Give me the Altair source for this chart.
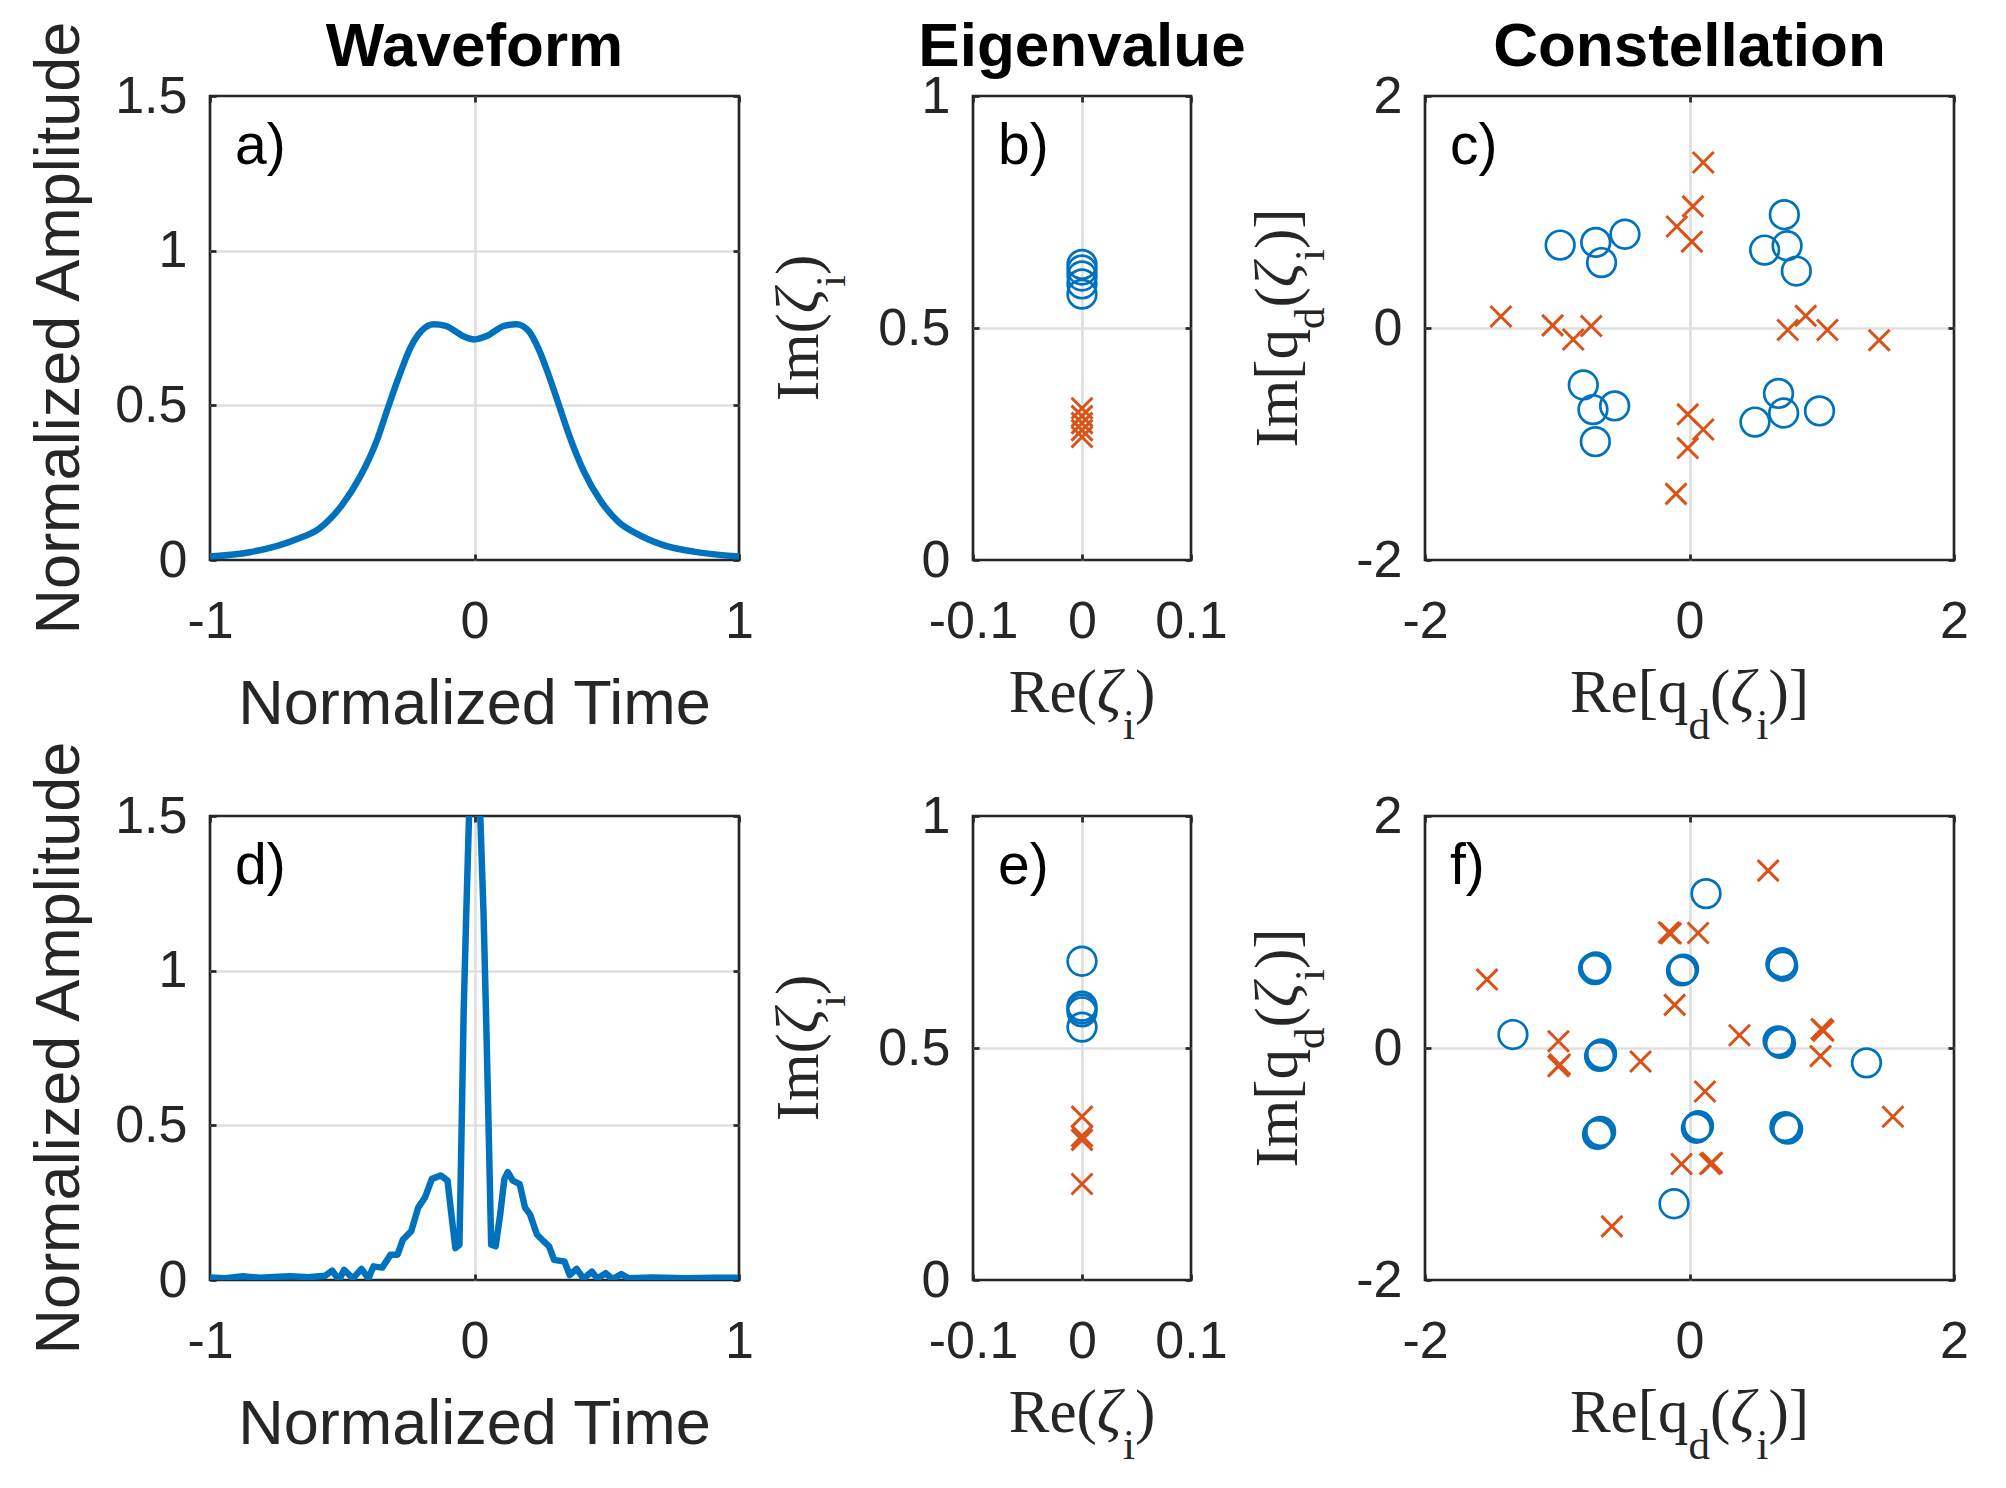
import altair as alt
import pandas as pd

# ---------------- data ----------------
t_a = [-1.0, -0.85, -0.668, -0.59, -0.499, -0.434, -0.369, -0.33, -0.29, -0.239, -0.2, -0.154,
       -0.109, -0.044, 0.0, 0.047, 0.112, 0.158, 0.204, 0.243, 0.282, 0.321, 0.36, 0.412, 0.477,
       0.542, 0.62, 0.711, 0.828, 1.0]
amp_a = [0.011, 0.025, 0.069, 0.10, 0.18, 0.267, 0.387, 0.485, 0.583, 0.692, 0.741, 0.762,
         0.757, 0.724, 0.713, 0.724, 0.757, 0.762, 0.741, 0.681, 0.594, 0.496, 0.398, 0.289, 0.191,
         0.125, 0.082, 0.049, 0.027, 0.011]

t_d = [-1.0, -0.941, -0.876, -0.811, -0.759, -0.694, -0.629, -0.564, -0.538, -0.512, -0.493, -0.46,
       -0.427, -0.401, -0.382, -0.349, -0.317, -0.291, -0.271, -0.239, -0.213, -0.187, -0.161,
       -0.128, -0.102, -0.083, -0.072, -0.057, -0.05, -0.041, -0.031, -0.02, 0.002, 0.021, 0.034,
       0.045, 0.055, 0.063, 0.08, 0.097, 0.113, 0.126, 0.145, 0.171, 0.191, 0.21, 0.236, 0.256,
       0.282, 0.301, 0.34, 0.36, 0.386, 0.412, 0.444, 0.464, 0.496, 0.522, 0.555, 0.581, 0.672,
       0.802, 0.906, 0.997]
amp_d = [0.008, 0.006, 0.012, 0.007, 0.01, 0.012, 0.009, 0.014, 0.03, 0.0, 0.033, 0.005,
         0.036, 0.005, 0.044, 0.04, 0.082, 0.082, 0.13, 0.158, 0.234, 0.267, 0.327,
         0.338, 0.321, 0.18, 0.103, 0.114, 0.43, 0.866, 1.19, 1.52, 1.56, 1.52, 1.19,
         0.81, 0.43, 0.114, 0.109, 0.212, 0.327, 0.349, 0.321, 0.31, 0.234, 0.212, 0.147, 0.13,
         0.109, 0.065, 0.06, 0.016, 0.036, 0.005, 0.027, 0.005, 0.022, 0.003, 0.019, 0.006, 0.008,
         0.006, 0.007, 0.007]

eig_b_circ = [0.637, 0.625, 0.612, 0.595, 0.573]
eig_b_cross = [0.327, 0.31, 0.295, 0.28, 0.265]
eig_e_circ = [0.687, 0.59, 0.584, 0.578, 0.545]
eig_e_cross = [0.352, 0.31, 0.302, 0.207]

c_circ_re = [-0.978, -0.709, -0.488, -0.665, 0.717, 0.568, 0.738, 0.808,
             -0.803, -0.730, -0.566, -0.712, 0.673, 0.712, 0.495, 0.983]
c_circ_im = [0.715, 0.738, 0.808, 0.564, 0.977, 0.672, 0.709, 0.491,
             -0.491, -0.703, -0.672, -0.980, -0.564, -0.733, -0.811, -0.715]
c_cross_re = [0.104, 0.026, -0.096, 0.018, -1.426, -1.035, -0.743, -0.879,
              0.743, 0.879, 1.043, 1.434, -0.013, 0.104, -0.013, -0.102]
c_cross_im = [1.427, 1.049, 0.875, 0.744, 0.099, 0.023, 0.017, -0.099,
              -0.017, 0.105, -0.017, -0.105, -0.744, -0.875, -1.035, -1.430]

f_circ_re = [0.125, -1.335, 1.338, -0.117,
             -0.725, -0.708, -0.716, -0.052, -0.045, -0.060, 0.691, 0.705, 0.698,
             -0.673, -0.665, -0.680, 0.678, 0.688, 0.670, -0.686, -0.672, -0.695,
             0.060, 0.068, 0.052, 0.730, 0.742, 0.722]
f_circ_im = [1.331, 0.116, -0.128, -1.343,
             0.686, 0.700, 0.676, 0.672, 0.680, 0.665, 0.721, 0.705, 0.735,
             -0.061, -0.050, -0.072, 0.052, 0.040, 0.062, -0.733, -0.720, -0.745,
             -0.680, -0.670, -0.692, -0.689, -0.700, -0.678]
f_cross_re = [0.595, -0.156, -0.142, 0.065, -1.531, -0.112, -0.991, -0.991, -0.980,
              -0.370, 0.378, 0.999, 1.012, 0.991, 1.538, 0.117, -0.060, 0.156, 0.170, -0.587]
f_cross_im = [1.529, 0.997, 0.988, 0.991, 0.590, 0.372, 0.058, -0.157, -0.142,
              -0.116, 0.110, 0.163, 0.150, -0.070, -0.593, -0.375, -1.0, -1.0, -0.99, -1.538]

# ---------------- style ----------------
FONT = "Liberation Sans"
SERIF = "Liberation Serif"
DARK = "#262626"
BLUE = "#0072BD"
ORANGE = "#D95319"
GRIDC = "#dfdfdf"
LW = 2.7
W_BIG, W_SMALL, H = 529, 218, 464
S_MAIN, S_SUB, SUB_DY = 61, 43, 27
TICK_FS = 52
XPATH = "M-1,-1L1,1M-1,1L1,-1"

one = pd.DataFrame({"k": [0]})

TIMES = {'R': .667, 'e': .444, '(': .333, ')': .333, '[': .333, ']': .333, 'q': .5, 'd': .5,
         'i': .278, 'I': .333, 'm': .778, 'ζ': .43}


def tw(text, size):
    return sum(TIMES[c] for c in text) * size


def rich_title(pieces, cx, cy, angle=0):
    total = sum(tw(t, sz) for t, sz, it, sub in pieces)
    off = -total / 2
    layers = []
    for t, sz, it, sub in pieces:
        kw = dict(text=t, font=SERIF, fontSize=sz, align='left', baseline='alphabetic',
                  dx=off, dy=SUB_DY if sub else 0, color=DARK,
                  fontStyle='italic' if it else 'normal')
        if angle:
            kw['angle'] = angle
        layers.append(alt.Chart(one).mark_text(**kw).encode(x=alt.value(cx), y=alt.value(cy)))
        off += tw(t, sz)
    return layers


def label_expr():
    return "'' + datum.value"


def inner_grid(dom):
    # grid lines only inside the frame (the edges are drawn by the frame itself)
    return {"condition": {"test": f"datum.value > {dom[0]} && datum.value < {dom[1]}",
                          "value": 1}, "value": 0}


def main_axes(xvals, yvals, xdom, ydom):
    ax = alt.Axis(values=xvals, orient='bottom', offset=-6, tickSize=6, tickWidth=LW,
                  tickColor=DARK, labelPadding=36, labelFont=FONT, labelFontSize=TICK_FS,
                  labelColor=DARK, grid=True, gridColor=GRIDC, gridWidth=LW,
                  gridOpacity=inner_grid(xdom), domain=False,
                  title=None, labelExpr=label_expr(), labelFlush=False, labelOverlap=False)
    ay = alt.Axis(values=yvals, orient='left', offset=-6, tickSize=6, tickWidth=LW,
                  tickColor=DARK, labelPadding=23, labelFont=FONT, labelFontSize=TICK_FS,
                  labelColor=DARK, grid=True, gridColor=GRIDC, gridWidth=LW,
                  gridOpacity=inner_grid(ydom), domain=False,
                  title=None, labelExpr=label_expr(), labelFlush=False, labelOverlap=False)
    return ax, ay


def other_axes(xvals, yvals):
    ax = alt.Axis(values=xvals, orient='top', offset=-6, tickSize=6, tickWidth=LW,
                  tickColor=DARK, labels=False, grid=False, domain=False, title=None)
    ay = alt.Axis(values=yvals, orient='right', offset=-6, tickSize=6, tickWidth=LW,
                  tickColor=DARK, labels=False, grid=False, domain=False, title=None)
    return ax, ay


def sc(dom):
    return alt.Scale(domain=dom, nice=False, zero=False)


def panel_label(txt):
    return alt.Chart(one).mark_text(text=txt, font=FONT, fontSize=57, align='left',
                                    baseline='alphabetic', color='black').encode(
        x=alt.value(25), y=alt.value(68))


def top_title(txt, w):
    return alt.Chart(one).mark_text(text=txt, font=FONT, fontSize=62, fontWeight='bold',
                                    align='center', baseline='alphabetic', color='black').encode(
        x=alt.value(w / 2), y=alt.value(-30))


def sans_title(txt, x, y, angle=0):
    kw = dict(text=txt, font=FONT, fontSize=63, align='center', baseline='alphabetic', color=DARK)
    if angle:
        kw['angle'] = angle
    return alt.Chart(one).mark_text(**kw).encode(x=alt.value(x), y=alt.value(y))


VIEW = alt.ViewBackground(stroke=DARK, strokeWidth=LW, fill='white')


def waveform(t, amp, label, title):
    df = pd.DataFrame({"t": t, "a": amp})
    xd, yd = [-1, 1], [0, 1.5]
    xv, yv = [-1, 0, 1], [0, 0.5, 1, 1.5]
    ax, ay = main_axes(xv, yv, xd, yd)
    ox, oy = other_axes(xv, yv)
    line = alt.Chart(df).mark_line(color=BLUE, strokeWidth=6.5, clip=True, strokeJoin='round',
                                   interpolate='monotone' if title else 'linear').encode(
        x=alt.X('t:Q', scale=sc(xd), axis=ax),
        y=alt.Y('a:Q', scale=sc(yd), axis=ay))
    dummy = alt.Chart(df).mark_point(opacity=0).encode(
        x=alt.X('t:Q', scale=sc(xd), axis=ox),
        y=alt.Y('a:Q', scale=sc(yd), axis=oy))
    layers = [line, dummy, panel_label(label),
              sans_title("Normalized Time", W_BIG / 2, H + 164),
              sans_title("Normalized Amplitude", -131, H / 2, 270)]
    if title:
        layers.append(top_title("Waveform", W_BIG))
    return alt.layer(*layers).resolve_axis(x='independent', y='independent').properties(
        width=W_BIG, height=H, view=VIEW)


def scatter(cx, cy, kx, ky, xdom, ydom, xv, yv, w, label, title, xpieces, ypieces, ytx):
    dfc = pd.DataFrame({"re": cx, "im": cy})
    dfk = pd.DataFrame({"re": kx, "im": ky})
    ax, ay = main_axes(xv, yv, xdom, ydom)
    ox, oy = other_axes(xv, yv)
    circ = alt.Chart(dfc).mark_point(shape='circle', filled=False, color=BLUE, size=820,
                                     strokeWidth=2.7, opacity=1).encode(
        x=alt.X('re:Q', scale=sc(xdom), axis=ax),
        y=alt.Y('im:Q', scale=sc(ydom), axis=ay))
    crs = alt.Chart(dfk).mark_point(shape=XPATH, filled=False, color=ORANGE, size=440,
                                    strokeWidth=3, opacity=1).encode(
        x=alt.X('re:Q', scale=sc(xdom), axis=ox),
        y=alt.Y('im:Q', scale=sc(ydom), axis=oy))
    layers = [circ, crs, panel_label(label)]
    layers += rich_title(xpieces, w / 2, H + 152)
    layers += rich_title(ypieces, ytx, H / 2, 270)
    if title:
        layers.append(top_title(title, w))
    return alt.layer(*layers).resolve_axis(x='independent', y='independent').properties(
        width=w, height=H, view=VIEW)


eig_x = [("Re(", S_MAIN, False, False), ("ζ", S_MAIN, True, False), ("i", S_SUB, False, True),
         (")", S_MAIN, False, False)]
eig_y = [("Im(", S_MAIN, False, False), ("ζ", S_MAIN, True, False), ("i", S_SUB, False, True),
         (")", S_MAIN, False, False)]
con_x = [("Re[q", S_MAIN, False, False), ("d", S_SUB, False, True), ("(", S_MAIN, False, False),
         ("ζ", S_MAIN, True, False), ("i", S_SUB, False, True), (")]", S_MAIN, False, False)]
con_y = [("Im[q", S_MAIN, False, False), ("d", S_SUB, False, True), ("(", S_MAIN, False, False),
         ("ζ", S_MAIN, True, False), ("i", S_SUB, False, True), (")]", S_MAIN, False, False)]

pa = waveform(t_a, amp_a, "a)", True)
pd_ = waveform(t_d, amp_d, "d)", False)
pb = scatter([0] * len(eig_b_circ), eig_b_circ, [0] * len(eig_b_cross), eig_b_cross,
             [-0.1, 0.1], [0, 1], [-0.1, 0, 0.1], [0, 0.5, 1], W_SMALL, "b)", "Eigenvalue",
             eig_x, eig_y, -155)
pe = scatter([0] * len(eig_e_circ), eig_e_circ, [0] * len(eig_e_cross), eig_e_cross,
             [-0.1, 0.1], [0, 1], [-0.1, 0, 0.1], [0, 0.5, 1], W_SMALL, "e)", None,
             eig_x, eig_y, -155)
pc = scatter(c_circ_re, c_circ_im, c_cross_re, c_cross_im, [-2, 2], [-2, 2], [-2, 0, 2],
             [-2, 0, 2], W_BIG, "c)", "Constellation", con_x, con_y, -128)
pf = scatter(f_circ_re, f_circ_im, f_cross_re, f_cross_im, [-2, 2], [-2, 2], [-2, 0, 2],
             [-2, 0, 2], W_BIG, "f)", None, con_x, con_y, -128)

chart = alt.concat(pa, pb, pc, pd_, pe, pf, columns=3,
                   spacing={"row": 256, "column": 234}, bounds='flush', align='each'
                   ).configure(
    background='white', padding={"left": 19, "top": 6, "right": 5, "bottom": 5}
).configure_view(stroke=DARK, strokeWidth=LW)

chart.save("out.html", embed_options={"renderer": "svg", "actions": False})
